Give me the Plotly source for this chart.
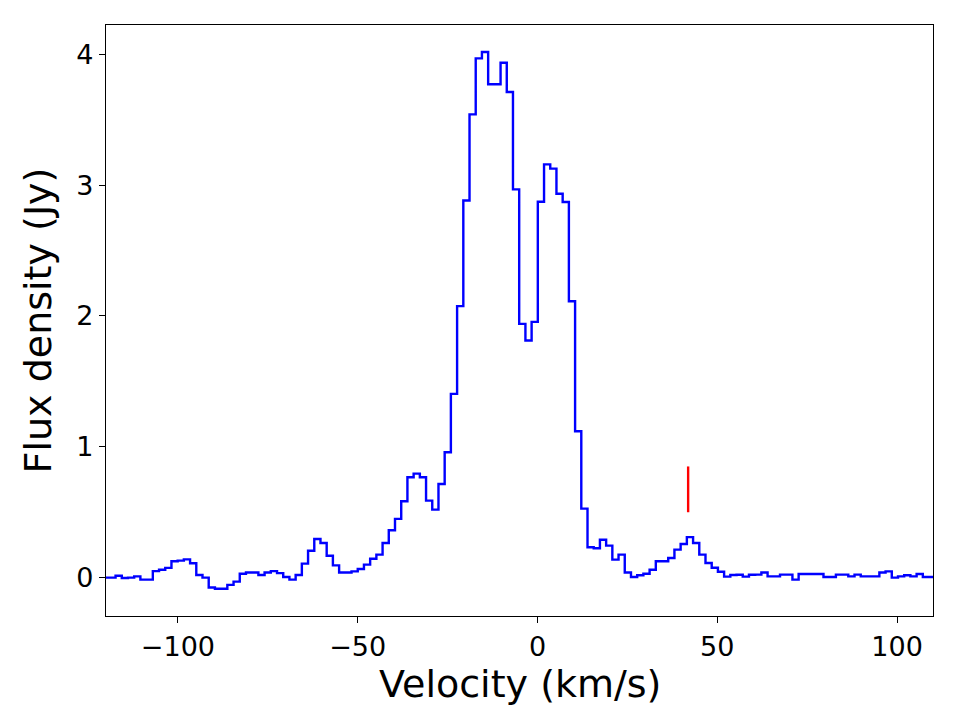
import plotly.graph_objects as go

# Channel centre velocities (km/s)
velocity = [
    -121.66, -119.93, -118.20, -116.48, -114.75, -113.02, -111.30, -109.57, -107.84, -106.11,
    -104.39, -102.66, -100.93, -99.21, -97.48, -95.75, -94.03, -92.30, -90.57, -88.84,
    -87.12, -85.39, -83.66, -81.94, -80.21, -78.48, -76.76, -75.03, -73.30, -71.57,
    -69.85, -68.12, -66.39, -64.67, -62.94, -61.21, -59.49, -57.76, -56.03, -54.30,
    -52.58, -50.85, -49.12, -47.40, -45.67, -43.94, -42.22, -40.49, -38.76, -37.03,
    -35.31, -33.58, -31.85, -30.13, -28.40, -26.67, -24.95, -23.22, -21.49, -19.76,
    -18.04, -16.31, -14.58, -12.86, -11.13, -9.40, -7.68, -5.95, -4.22, -2.49,
    -0.77, 0.96, 2.69, 4.41, 6.14, 7.87, 9.60, 11.32, 13.05, 14.78,
    16.50, 18.23, 19.96, 21.68, 23.41, 25.14, 26.87, 28.59, 30.32, 32.05,
    33.77, 35.50, 37.23, 38.95, 40.68, 42.41, 44.14, 45.86, 47.59, 49.32,
    51.04, 52.77, 54.50, 56.22, 57.95, 59.68, 61.41, 63.13, 64.86, 66.59,
    68.31, 70.04, 71.77, 73.49, 75.22, 76.95, 78.68, 80.40, 82.13, 83.86,
    85.58, 87.31, 89.04, 90.76, 92.49, 94.22, 95.95, 97.67, 99.40, 101.13,
    102.85, 104.58, 106.31, 108.03, 109.76, 111.49,
]

# Flux density per channel (Jy)
flux = [
    0.0, 0.0, 0.0, 0.015, -0.003, 0.0, 0.01, -0.015, -0.015, 0.05,
    0.06, 0.075, 0.125, 0.13, 0.14, 0.11, 0.02, 0.0, -0.075, -0.085,
    -0.085, -0.055, -0.03, 0.03, 0.04, 0.04, 0.02, 0.04, 0.05, 0.035,
    0.005, -0.015, 0.02, 0.107, 0.206, 0.296, 0.265, 0.168, 0.094, 0.04,
    0.04, 0.048, 0.066, 0.10, 0.145, 0.176, 0.265, 0.362, 0.449, 0.584,
    0.767, 0.795, 0.767, 0.589, 0.52, 0.716, 0.959, 1.405, 2.075, 2.883,
    3.541, 3.969, 4.018, 3.771, 3.771, 3.936, 3.712, 2.968, 1.94, 1.813,
    1.955, 2.873, 3.159, 3.126, 2.934, 2.871, 2.113, 1.119, 0.528, 0.232,
    0.225, 0.29, 0.245, 0.138, 0.176, 0.04, 0.005, 0.018, 0.03, 0.06,
    0.125, 0.125, 0.15, 0.214, 0.257, 0.31, 0.265, 0.176, 0.112, 0.076,
    0.045, 0.008, 0.02, 0.022, 0.008, 0.022, 0.023, 0.04, 0.01, 0.01,
    0.023, 0.023, -0.015, 0.028, 0.028, 0.028, 0.028, 0.005, 0.005, 0.023,
    0.023, 0.01, 0.023, 0.01, 0.01, 0.01, 0.04, 0.048, 0.0, 0.01,
    0.018, 0.01, 0.028, 0.005, 0.005, 0.005,
]

# Red marker line
marker_velocity = [41.9, 41.9]
marker_flux = [0.5, 0.85]

x_ticks = [-100, -50, 0, 50, 100]
y_ticks = [0, 1, 2, 3, 4]
x_title = "Velocity (km/s)"
y_title = "Flux density (Jy)"

fig = go.Figure()
fig.add_trace(go.Scatter(
    x=velocity, y=flux, mode="lines",
    line=dict(color="#0000ff", width=2.4, shape="hvh"),
    showlegend=False,
))
fig.add_trace(go.Scatter(
    x=marker_velocity, y=marker_flux, mode="lines",
    line=dict(color="#ff0000", width=2.4),
    showlegend=False,
))

axis_common = dict(
    showgrid=False, zeroline=False,
    showline=True, linecolor="black", linewidth=1.3, mirror=True,
    ticks="outside", ticklen=6, tickwidth=1.3, tickcolor="black",
    tickfont=dict(family="DejaVu Sans", size=27, color="black"),
)

fig.update_layout(
    width=961, height=719,
    margin=dict(l=106, r=28, t=25, b=103),
    paper_bgcolor="white", plot_bgcolor="white",
    xaxis=dict(range=[-120, 110], tickvals=x_ticks, **axis_common),
    yaxis=dict(
        range=[-0.293, 4.224], tickvals=y_ticks,
        title=dict(text=y_title, font=dict(family="DejaVu Sans", size=38, color="black"), standoff=12),
        **axis_common,
    ),
    annotations=[dict(
        text=x_title, xref="paper", yref="paper", x=0.5, y=-0.115,
        xanchor="center", yanchor="middle", showarrow=False, borderpad=0,
        font=dict(family="DejaVu Sans", size=38, color="black"),
    )],
)

fig.write_html("out.html")
